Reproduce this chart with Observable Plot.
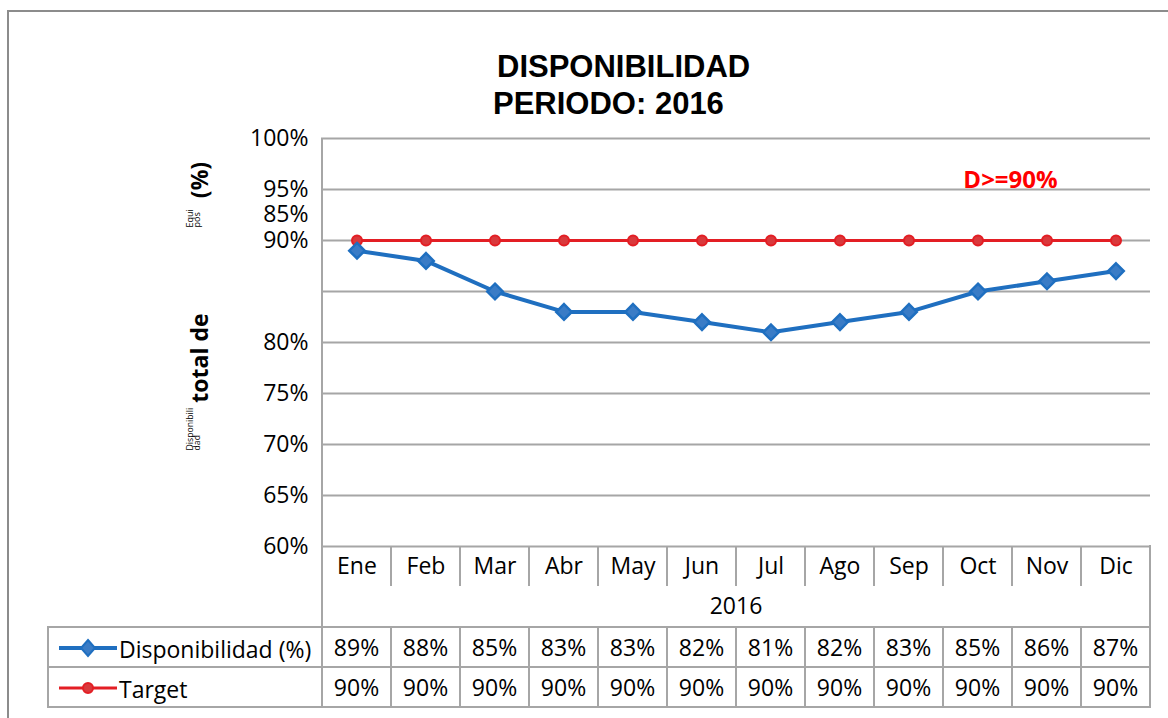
<!DOCTYPE html>
<html>
<head>
<meta charset="utf-8">
<script src="https://cdn.jsdelivr.net/npm/d3@7"></script>
<script src="https://cdn.jsdelivr.net/npm/@observablehq/plot@0.6"></script>
<style>
  html, body { margin: 0; padding: 0; background: #fff; }
  #root { position: relative; width: 1168px; height: 718px; overflow: hidden; background: #fff; font-family: "Open Sans", sans-serif; }
  .abs { position: absolute; }
  .title { position: absolute; font-family: "Liberation Sans", Arial, sans-serif; font-weight: bold; font-size: 31px; line-height: 31px; color: #000; white-space: nowrap; }
  table.dt { position: absolute; border-collapse: collapse; table-layout: fixed; font-family: "Open Sans", sans-serif; font-size: 23px; color: #000; }
  table.dt td { border: 2px solid #a6a6a6; height: 38px; padding: 0; text-align: center; white-space: nowrap; overflow: visible; }
  table.dt td.leg { text-align: left; }
</style>
</head>
<body>
<div id="root"></div>
<script>
// ---------- data ----------
const months = ["Ene", "Feb", "Mar", "Abr", "May", "Jun", "Jul", "Ago", "Sep", "Oct", "Nov", "Dic"];
const disponibilidad = [89, 88, 85, 83, 83, 82, 81, 82, 83, 85, 86, 87];
const target = [90, 90, 90, 90, 90, 90, 90, 90, 90, 90, 90, 90];
const seriesNames = ["Disponibilidad (%)", "Target"];
const yTickValues = [100, 95, 92.5, 90, 80, 75, 70, 65, 60];
const yTickLabels = ["100%", "95%", "85%", "90%", "80%", "75%", "70%", "65%", "60%"];
const yGridValues = [100, 95, 90, 85, 80, 75, 70, 65, 60];
const yearLabel = "2016";
const titleLines = ["DISPONIBILIDAD", "PERIODO: 2016"];
const targetNote = "D>=90%";
const yTitleSmall1 = ["Disponibili", "dad"];
const yTitleBig1 = "total de";
const yTitleSmall2 = ["Equi", "pos"];
const yTitleBig2 = "(%)";

// ---------- styles ----------
const BLUE = "#1f6fc0";
const RED = "#e31e24";
const GRID = "#a6a6a6";

const dispRows = months.map((m, i) => ({month: m, value: disponibilidad[i], series: seriesNames[0]}));
const targetRows = months.map((m, i) => ({month: m, value: target[i], series: seriesNames[1]}));
const labelMap = new Map(yTickValues.map((v, i) => [v, yTickLabels[i]]));

const root = d3.select("#root");

const plot = Plot.plot({
  width: 1168,
  height: 718,
  marginLeft: 321,
  marginRight: 18,
  marginTop: 138,
  marginBottom: 172,
  style: {background: "none", fontFamily: "'Open Sans', sans-serif", fontSize: "23px", color: "#000", overflow: "visible"},
  x: {type: "band", domain: months, padding: 0},
  y: {domain: [60, 100]},
  marks: [
    Plot.gridY(yGridValues, {stroke: GRID, strokeOpacity: 1, strokeWidth: 2}),
    Plot.axisY(yTickValues, {tickFormat: d => labelMap.get(d), tickSize: 0, tickPadding: 13, fontSize: 23, label: null}),
    Plot.axisX({tickSize: 0, tickPadding: 11, fontSize: 23, label: null}),
    Plot.text([yearLabel], {frameAnchor: "bottom", dy: 60, lineAnchor: "middle", textAnchor: "middle", fontSize: 23}),
    // y-axis title pieces
    Plot.text([yTitleSmall1[0]], {frameAnchor: "left", rotate: -90, textAnchor: "start", lineAnchor: "middle", dx: -131, dy: 108, fontSize: 8.7}),
    Plot.text([yTitleSmall1[1]], {frameAnchor: "left", rotate: -90, textAnchor: "start", lineAnchor: "middle", dx: -124.5, dy: 108, fontSize: 8.7}),
    Plot.text([yTitleBig1], {frameAnchor: "left", rotate: -90, textAnchor: "middle", lineAnchor: "middle", dx: -121, dy: 15.5, fontSize: 23, fontWeight: "bold"}),
    Plot.text([yTitleSmall2[0]], {frameAnchor: "left", rotate: -90, textAnchor: "start", lineAnchor: "middle", dx: -131, dy: -115, fontSize: 9}),
    Plot.text([yTitleSmall2[1]], {frameAnchor: "left", rotate: -90, textAnchor: "start", lineAnchor: "middle", dx: -124.5, dy: -115, fontSize: 9}),
    Plot.text([yTitleBig2], {frameAnchor: "left", rotate: -90, textAnchor: "middle", lineAnchor: "middle", dx: -121, dy: -162.5, fontSize: 23, fontWeight: "bold"}),
    // target annotation
    Plot.text([targetNote], {frameAnchor: "top-right", textAnchor: "middle", lineAnchor: "middle", dx: -140, dy: 42, fill: "#ff0000", fontSize: 24, fontWeight: "bold"}),
    // series
    Plot.line(targetRows, {x: "month", y: "value", stroke: RED, strokeWidth: 3}),
    Plot.dot(targetRows, {x: "month", y: "value", r: 5, fill: "#d9393c", stroke: RED, strokeWidth: 2}),
    Plot.line(dispRows, {x: "month", y: "value", stroke: BLUE, strokeWidth: 4}),
    Plot.dot(dispRows, {x: "month", y: "value", symbol: "diamond2", r: 7, fill: "#3a7cc6", stroke: BLUE, strokeWidth: 2.5})
  ]
});

// outer frame (top + left edges of the original chart area)
root.append("div").attr("class", "abs")
  .style("left", "7px").style("top", "10px").style("width", "1300px").style("height", "900px")
  .style("border-top", "2px solid #8c8c8c").style("border-left", "2px solid #8c8c8c");

root.append("div").attr("class", "abs").style("left", "0px").style("top", "0px").node().appendChild(plot);

// titles
root.append("div").attr("class", "title").style("left", "497px").style("top", "51px").text(titleLines[0]);
root.append("div").attr("class", "title").style("left", "493px").style("top", "88px").text(titleLines[1]);

// geometry from plot scales
const xs = plot.scale("x");
const bw = xs.bandwidth;
const xStart = xs.apply(months[0]);
const xEnd = xs.apply(months[months.length - 1]) + bw;
const ys = plot.scale("y");
const yTop = ys.apply(100);
const yBot = ys.apply(60);

// vertical axis line + month row box
root.append("div").attr("class", "abs")
  .style("left", (xStart - 1) + "px").style("top", yTop + "px")
  .style("width", "2px").style("height", (yBot - yTop) + "px").style("background", GRID);
root.append("div").attr("class", "abs")
  .style("left", (xStart - 1) + "px").style("top", (yBot - 1) + "px")
  .style("width", (xEnd - xStart + 2) + "px").style("height", "83px").style("box-sizing", "border-box")
  .style("border-left", "2px solid " + GRID).style("border-right", "2px solid " + GRID);
months.slice(1).forEach(m => {
  root.append("div").attr("class", "abs")
    .style("left", (xs.apply(m) - 1) + "px").style("top", yBot + "px")
    .style("width", "2px").style("height", "40px").style("background", GRID);
});

// data table
const tableLeft = 48;
const table = root.append("table").attr("class", "dt")
  .style("left", (tableLeft - 1) + "px").style("top", "626px")
  .style("width", (xEnd - tableLeft + 2) + "px");
const cg = table.append("colgroup");
cg.append("col").style("width", (xStart - tableLeft) + "px");
months.forEach(() => cg.append("col").style("width", bw + "px"));

function legendSvg(color, kind) {
  let marker;
  if (kind === "diamond") {
    marker = `<path d="M29,2 L36,10 L29,18 L22,10 Z" fill="#3a7cc6" stroke="${color}" stroke-width="2"/>`;
  } else {
    marker = `<circle cx="29" cy="10" r="5" fill="#d9393c" stroke="${color}" stroke-width="2"/>`;
  }
  return `<svg width="58" height="20" style="vertical-align:middle;margin-left:10px;margin-right:2px"><line x1="0" y1="10" x2="58" y2="10" stroke="${color}" stroke-width="${kind === "diamond" ? 4 : 3}"/>${marker}</svg>`;
}

const tableRows = [
  {name: seriesNames[0], values: disponibilidad, color: BLUE, kind: "diamond"},
  {name: seriesNames[1], values: target, color: RED, kind: "circle"}
];
tableRows.forEach(r => {
  const tr = table.append("tr");
  tr.append("td").attr("class", "leg").html(legendSvg(r.color, r.kind) + `<span style="vertical-align:middle">${r.name}</span>`);
  r.values.forEach(v => tr.append("td").text(v + "%"));
});
</script>
</body>
</html>
